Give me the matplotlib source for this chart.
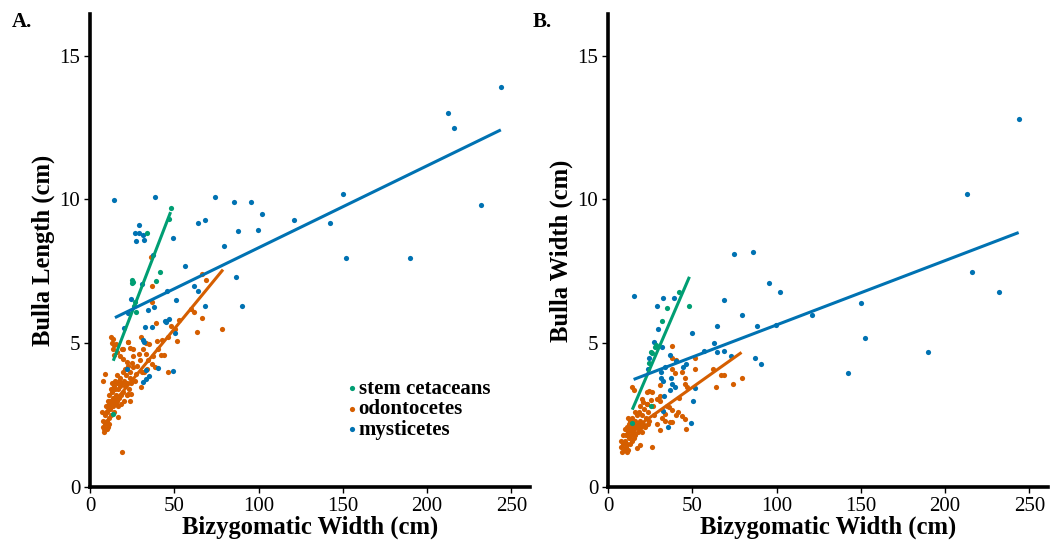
import matplotlib
matplotlib.use("Agg")
import matplotlib.pyplot as plt

# ---------------- data ----------------
# Panel A: Bulla length vs bizygomatic width
stem_A_x = [47.8, 46.7, 34.1, 41.5, 24.8, 25.2, 39.2, 27.4, 26.0, 26.4, 13.8, 25.5]
stem_A_y = [9.69, 9.31, 8.84, 7.49, 7.19, 7.11, 7.16, 6.08, 6.29, 6.44, 2.54, 7.13]

odo_A_x = [7.0, 7.5, 8.0, 8.2, 8.5, 9.0, 9.0, 9.5, 9.8, 10.0, 10.2, 10.5, 10.8, 11.0, 11.0,
           11.3, 11.5, 11.8, 12.0, 12.2, 12.5, 12.8, 13.0, 13.2, 13.5, 13.8, 14.0, 14.2, 14.5,
           14.8, 15.0, 15.2, 15.5, 15.8, 16.0, 16.2, 16.5, 16.8, 17.0, 17.3, 17.6, 18.0, 18.3,
           18.6, 19.0, 19.3, 19.6, 20.0, 20.3, 20.6, 21.0, 21.4, 21.8, 22.2, 22.6, 23.0, 23.5,
           24.0, 24.5, 25.0,
           12.5, 13.2, 13.8, 14.5, 15.4, 16.2, 17.7, 19.1, 19.7, 22.0, 22.4, 23.6, 25.4, 25.8,
           27.0, 28.9, 30.1, 30.5, 31.0, 32.1, 33.5, 34.1, 35.2, 36.6, 37.4, 38.8, 39.8, 42.3,
           44.1, 45.3, 46.1, 50.2, 51.4, 61.6, 63.2, 66.7, 78.5, 36.8, 36.4, 36.8, 39.2, 18.9,
           9.1, 7.7, 16.5, 23.6, 22.8, 24.2, 26.5, 28.0, 29.5, 31.5, 33.0, 34.5, 40.5, 43.0,
           46.5, 48.0, 53.0, 60.0, 69.0, 66.7, 13.7, 22.7, 14.3, 19.7, 25.7]
odo_A_y = [2.6, 2.3, 2.1, 2.0, 1.9, 2.2, 2.5, 2.8, 2.0, 2.3, 2.6, 3.0, 2.1, 2.4, 2.9,
           3.2, 2.2, 2.7, 3.0, 3.4, 2.5, 2.9, 3.3, 3.6, 2.8, 3.1, 3.5, 2.6, 3.0,
           3.4, 3.7, 2.9, 3.2, 3.6, 3.9, 3.0, 3.4, 2.8, 3.7, 3.1, 3.5, 3.8, 3.2,
           2.9, 3.6, 4.0, 3.3, 3.7, 3.0, 4.1, 3.5, 3.9, 3.2, 3.6, 4.2, 3.4, 3.8,
           4.0, 3.6, 4.3,
           5.2, 5.0, 4.8, 4.6, 4.96, 4.7, 4.54, 4.79, 4.46, 4.34, 5.06, 4.85, 4.19, 4.54,
           3.93, 4.63, 3.47, 5.2, 4.0, 3.99, 4.63, 4.11, 4.96, 4.28, 4.54, 4.19, 5.08, 4.58,
           4.58, 5.78, 3.99, 5.49, 5.09, 6.08, 5.38, 5.89, 5.49, 6.99, 8.0, 6.45, 5.7, 1.2,
           3.93, 3.69, 2.42, 2.98, 3.23, 3.24, 3.7, 4.2, 4.4, 4.8, 5.0, 4.4, 4.8, 5.1,
           5.2, 5.6, 5.8, 6.2, 7.2, 7.4, 5.16, 5.05, 4.93, 4.81, 4.81]

mys_A_x = [14.4, 38.4, 74.2, 85.4, 95.3, 101.8, 63.8, 68.3, 87.8, 99.4, 120.9, 142.5, 150.0,
           151.8, 190.0, 212.4, 215.7, 231.7, 243.7, 79.3, 56.1, 86.4, 90.4, 68.3, 61.8, 64.2,
           51.0, 49.2, 45.7, 26.4, 29.1, 31.7, 27.0, 31.9, 28.9, 37.2, 31.1, 24.3, 22.8, 34.2,
           38.2, 20.3, 32.8, 36.8, 44.4, 47.1, 50.3, 45.0, 31.2, 32.2, 22.2, 33.0, 40.1, 49.1,
           31.6, 33.0, 35.2]
mys_A_y = [9.99, 10.09, 10.09, 9.9, 9.9, 9.48, 9.19, 9.29, 8.89, 8.94, 9.29, 9.19, 10.19,
           7.98, 7.98, 12.99, 12.5, 9.8, 13.9, 8.38, 7.69, 7.29, 6.29, 6.29, 6.99, 6.8,
           6.5, 8.66, 6.82, 8.83, 8.83, 8.78, 8.54, 8.59, 9.1, 8.08, 7.06, 6.55, 6.05, 6.17,
           6.26, 5.53, 5.57, 5.57, 5.77, 5.86, 5.36, 5.74, 5.1, 5.05, 4.09, 4.06, 4.15, 4.03,
           3.66, 3.74, 3.85]

# fitted lines (endpoints) panel A
fit_A_stem_x = [13.8, 47.8]
fit_A_stem_y = [4.39, 9.56]
fit_A_odo_x = [8.0, 78.9]
fit_A_odo_y = [2.5, 7.56]
fit_A_mys_x = [14.8, 243.7]
fit_A_mys_y = [5.89, 12.42]

# Panel B: Bulla width vs bizygomatic width
stem_B_x = [42.1, 34.9, 48.3, 32.3, 27.9, 25.7, 24.5, 25.5, 14.4, 26.0, 28.5]
stem_B_y = [6.79, 6.24, 6.29, 5.79, 4.86, 4.69, 4.30, 2.83, 2.24, 4.65, 4.95]

odo_B_x = [7.5, 8.0, 8.5, 9.0, 9.0, 9.5, 10.0, 10.0, 10.5, 10.8, 11.0, 11.2, 11.5, 11.8,
           12.0, 12.2, 12.5, 12.8, 13.0, 13.3, 13.6, 14.0, 14.2, 14.5, 14.8, 15.0, 15.3, 15.6,
           16.0, 16.3, 16.6, 17.0, 17.4, 17.5, 17.8, 18.2, 18.5, 19.0, 19.0, 19.5, 20.0, 20.4,
           21.0, 21.5, 22.0, 22.5, 23.0, 23.5, 24.0, 24.5, 25.3, 26.1, 26.1, 23.1, 20.4, 14.0,
           15.2, 23.1, 24.1, 26.5, 27.5, 28.9, 30.7, 30.7, 30.9, 31.1, 32.0, 33.7, 35.0, 36.1,
           36.5, 37.9, 38.1, 37.7, 38.1, 39.7, 38.1, 40.1, 41.5, 43.7, 45.7, 46.3, 45.9, 45.5,
           46.7, 51.5, 51.7, 62.1, 63.8, 67.2, 68.6, 74.4, 79.2, 29.0, 34.0, 12.0, 16.0, 19.0,
           21.0, 42.0, 44.0, 40.5]
odo_B_y = [1.6, 1.4, 1.2, 1.5, 1.8, 1.3, 1.6, 2.0, 1.4, 1.8, 1.2, 2.1, 1.5, 1.9,
           1.3, 2.2, 1.7, 2.0, 1.5, 2.3, 1.8, 2.1, 1.6, 2.4, 1.9, 2.2, 1.7, 2.0,
           2.3, 1.8, 2.1, 2.5, 1.35, 1.9, 2.2, 2.6, 2.0, 1.45, 2.3, 2.1, 2.5, 1.9,
           2.2, 2.7, 2.1, 2.4, 2.9, 2.2, 2.6, 2.3, 3.02, 1.38, 3.29, 3.29, 3.07, 3.48,
           3.39, 2.9, 3.33, 2.8, 2.5, 3.07, 3.53, 3.17, 2.99, 1.98, 2.4, 2.54, 2.8, 2.78,
           2.27, 2.27, 2.69, 4.89, 4.49, 3.98, 4.09, 2.49, 2.6, 2.46, 2.38, 2.03, 3.79, 3.58,
           3.48, 4.49, 4.09, 4.09, 3.48, 3.88, 3.88, 3.58, 3.79, 2.2, 2.3, 2.4, 2.6, 2.8,
           2.95, 3.1, 4.0, 4.4]

mys_B_x = [15.2, 32.5, 39.1, 29.3, 29.9, 27.3, 32.1, 24.5, 23.7, 31.3, 34.1, 36.7, 40.1,
           44.5, 46.5, 49.7, 31.3, 32.5, 37.3, 38.1, 39.9, 36.7, 33.1, 51.5, 50.3, 49.1, 35.3,
           32.5, 56.7, 62.6, 64.6, 64.6, 68.8, 68.8, 72.8, 74.6, 79.6, 85.8, 87.0, 88.2, 91.0,
           95.6, 99.8, 102.2, 121.3, 142.5, 150.2, 152.2, 190.0, 212.7, 215.7, 231.8, 243.6]
mys_B_y = [6.64, 6.56, 6.59, 6.29, 5.49, 5.06, 4.86, 4.49, 4.09, 3.99, 4.19, 4.58, 4.39,
           4.19, 4.28, 5.35, 3.79, 3.69, 3.79, 3.58, 3.48, 3.39, 3.18, 3.44, 2.99, 2.21, 2.08,
           2.66, 4.74, 5.0, 5.59, 4.69, 4.72, 6.5, 4.56, 8.09, 5.99, 8.19, 4.49, 5.59, 4.28,
           7.09, 5.62, 6.79, 5.99, 3.98, 6.39, 5.19, 4.68, 10.2, 7.49, 6.79, 12.8]

fit_B_stem_x = [14.4, 48.3]
fit_B_stem_y = [2.69, 7.31]
fit_B_odo_x = [10.0, 79.2]
fit_B_odo_y = [1.8, 4.68]
fit_B_mys_x = [15.2, 243.6]
fit_B_mys_y = [3.74, 8.85]

labels = ["stem cetaceans", "odontocetes", "mysticetes"]
xticks = [0, 50, 100, 150, 200, 250]
yticks = [0, 5, 10, 15]

# ---------------- style ----------------
C_STEM = "#009E73"
C_ODO = "#D55E00"
C_MYS = "#0072B2"
SERIF = ["Liberation Serif", "DejaVu Serif"]
plt.rcParams["font.family"] = SERIF

fig = plt.figure(figsize=(10.64, 5.46), dpi=100)
axA = fig.add_axes([90 / 1064, 59 / 546, 440 / 1064, 473 / 546])
axB = fig.add_axes([608 / 1064, 59 / 546, 440 / 1064, 473 / 546])

S = 14


def draw(ax, sx, sy, ox, oy, mx, my, fits, ylabel):
    ax.scatter(ox, oy, s=S, color=C_ODO, linewidths=0, zorder=2, label=labels[1])
    ax.scatter(mx, my, s=S, color=C_MYS, linewidths=0, zorder=3, label=labels[2])
    ax.scatter(sx, sy, s=S, color=C_STEM, linewidths=0, zorder=4, label=labels[0])
    (fsx, fsy), (fox, foy), (fmx, fmy) = fits
    ax.plot(fsx, fsy, color=C_STEM, lw=2.2, zorder=5, solid_capstyle="butt")
    ax.plot(fox, foy, color=C_ODO, lw=2.2, zorder=5, solid_capstyle="butt")
    ax.plot(fmx, fmy, color=C_MYS, lw=2.2, zorder=5, solid_capstyle="butt")
    ax.set_xlim(0, 261)
    ax.set_ylim(0, 16.45)
    ax.set_xticks(xticks)
    ax.set_yticks(yticks)
    for side in ("top", "right"):
        ax.spines[side].set_visible(False)
    for side in ("left", "bottom"):
        ax.spines[side].set_linewidth(2.6)
    ax.tick_params(direction="out", length=4, width=1, labelsize=15, pad=3)
    for t in ax.get_xticklabels() + ax.get_yticklabels():
        t.set_fontfamily(SERIF)
    ax.set_xlabel("Bizygomatic Width (cm)", fontsize=17.7, fontweight="bold", labelpad=0)
    ax.set_ylabel(ylabel, fontsize=17.7, fontweight="bold", labelpad=3)


draw(axA, stem_A_x, stem_A_y, odo_A_x, odo_A_y, mys_A_x, mys_A_y,
     [(fit_A_stem_x, fit_A_stem_y), (fit_A_odo_x, fit_A_odo_y), (fit_A_mys_x, fit_A_mys_y)],
     "Bulla Length (cm)")
draw(axB, stem_B_x, stem_B_y, odo_B_x, odo_B_y, mys_B_x, mys_B_y,
     [(fit_B_stem_x, fit_B_stem_y), (fit_B_odo_x, fit_B_odo_y), (fit_B_mys_x, fit_B_mys_y)],
     "Bulla Width (cm)")

# legend in panel A
h, l = axA.get_legend_handles_labels()
order = [l.index(x) for x in labels]
axA.legend([h[i] for i in order], [l[i] for i in order], loc="upper left",
           bbox_to_anchor=(0.544, 0.251), frameon=False, handletextpad=-0.3,
           handlelength=1.2, labelspacing=0.02, borderpad=0,
           prop={"family": SERIF, "weight": "bold", "size": 15}, markerscale=1.0)

fig.text(12 / 1064, 1 - 22 / 546, "A.", fontsize=15, fontweight="bold", va="center")
fig.text(533 / 1064, 1 - 22 / 546, "B.", fontsize=15, fontweight="bold", va="center")

fig.savefig("out.png", dpi=100)
